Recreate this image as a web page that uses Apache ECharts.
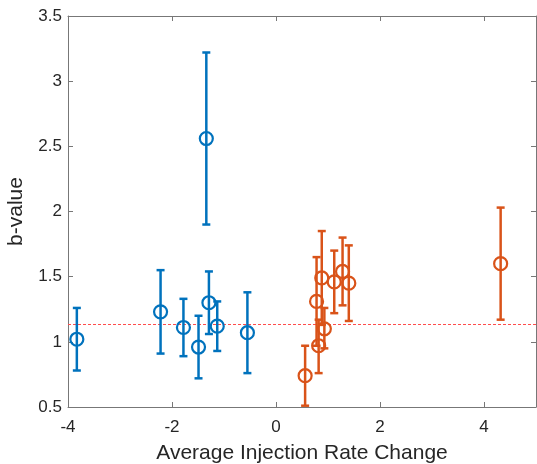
<!DOCTYPE html>
<html>
<head>
<meta charset="utf-8">
<script src="https://cdn.jsdelivr.net/npm/echarts@6/dist/echarts.min.js"></script>
<style>
html,body{margin:0;padding:0;background:#fff;}
#c{width:537px;height:464px;}
</style>
</head>
<body>
<div id="c"></div>
<script>
// Blue group (negative rate change)
var blueX    = [-3.83, -2.22, -1.78, -1.49, -1.29, -1.13, -0.55, -1.34];
var blueY    = [1.02, 1.23, 1.11, 0.96, 1.30, 1.12, 1.07, 2.56];
var blueLow  = [0.78, 0.91, 0.89, 0.72, 1.06, 0.93, 0.76, 1.90];
var blueHigh = [1.26, 1.55, 1.33, 1.20, 1.54, 1.31, 1.38, 3.22];

// Orange group (positive rate change)
var orangeX    = [0.56, 0.78, 0.82, 0.88, 0.93, 1.12, 1.28, 1.40, 4.32];
var orangeY    = [0.74, 1.31, 0.97, 1.49, 1.10, 1.46, 1.54, 1.45, 1.60];
var orangeLow  = [0.51, 0.97, 0.76, 1.13, 0.95, 1.22, 1.28, 1.16, 1.17];
var orangeHigh = [0.97, 1.65, 1.17, 1.85, 1.26, 1.70, 1.80, 1.74, 2.03];

// Reference line (horizontal, spans the x range)
var refLine = 1.14;
var refXRange = [-4, 5];

// Axis ticks
var xTicks = [-4, -2, 0, 2, 4];
var yTicks = [0.5, 1, 1.5, 2, 2.5, 3, 3.5];

var BLUE = '#0072BD', ORANGE = '#D95319', REF = '#FF4D4D';

function zip3(x, a, b) { return x.map(function (v, i) { return [v, a[i], b[i]]; }); }
function zip2(x, a) { return x.map(function (v, i) { return [v, a[i]]; }); }

function errRender(color) {
  return function (params, api) {
    var x = api.value(0);
    var p1 = api.coord([x, api.value(1)]);
    var p2 = api.coord([x, api.value(2)]);
    var w = 4;
    var st = { stroke: color, lineWidth: 2.5 };
    return {
      type: 'group',
      children: [
        { type: 'line', shape: { x1: p1[0], y1: p1[1], x2: p2[0], y2: p2[1] }, style: st },
        { type: 'line', shape: { x1: p1[0] - w, y1: p1[1], x2: p1[0] + w, y2: p1[1] }, style: st },
        { type: 'line', shape: { x1: p2[0] - w, y1: p2[1], x2: p2[0] + w, y2: p2[1] }, style: st }
      ]
    };
  };
}

function refRender(params, api) {
  var a = api.coord([api.value(0), api.value(2)]);
  var b = api.coord([api.value(1), api.value(2)]);
  var y = Math.round(a[1]) + 0.5;
  return {
    type: 'line',
    shape: { x1: Math.round(a[0]), y1: y, x2: Math.round(b[0]), y2: y },
    style: { stroke: REF, lineWidth: 1, lineDash: [3, 2] }
  };
}

var FONT = '"Liberation Sans", Arial, sans-serif';
var AX = '#777777';
var TXT = '#262626';

var chart = echarts.init(document.getElementById('c'), null, { renderer: 'canvas' });
var baseX = {
  type: 'value', min: -4, max: 5, interval: 2,
  axisLine: { show: true, onZero: false, lineStyle: { color: AX, width: 1 } },
  axisTick: { show: true, inside: true, length: 5, lineStyle: { color: AX } },
  splitLine: { show: false }
};
var baseY = {
  type: 'value', min: 0.5, max: 3.5, interval: 0.5,
  axisLine: { show: true, onZero: false, lineStyle: { color: AX, width: 1 } },
  axisTick: { show: true, inside: true, length: 5, lineStyle: { color: AX } },
  splitLine: { show: false }
};

chart.setOption({
  animation: false,
  backgroundColor: '#fff',
  grid: { left: 68, top: 16, right: 1, bottom: 57, containLabel: false, outerBoundsMode: 'none' },
  xAxis: [
    Object.assign({}, baseX, {
      position: 'bottom',
      name: 'Average Injection Rate Change',
      nameLocation: 'middle', nameGap: 36,
      nameTextStyle: { fontFamily: FONT, fontSize: 21, color: TXT },
      axisLabel: {
        fontFamily: FONT, fontSize: 17, color: TXT, margin: 12, showMaxLabel: false,
        formatter: function (v) { return xTicks.indexOf(v) >= 0 ? String(v) : ''; }
      }
    }),
    Object.assign({}, baseX, { position: 'top', axisLabel: { show: false } })
  ],
  yAxis: [
    Object.assign({}, baseY, {
      position: 'left',
      name: 'b-value',
      nameLocation: 'middle', nameGap: 41, nameMoveOverlap: false,
      nameTextStyle: { fontFamily: FONT, fontSize: 21, color: TXT },
      axisLabel: {
        fontFamily: FONT, fontSize: 17, color: TXT, margin: 6,
        formatter: function (v) { return yTicks.indexOf(v) >= 0 ? String(v) : ''; }
      }
    }),
    Object.assign({}, baseY, { position: 'right', axisLabel: { show: false } })
  ],
  series: [
    {
      type: 'custom', renderItem: refRender,
      data: [[refXRange[0], refXRange[1], refLine]], z: 1, silent: true
    },
    { type: 'custom', renderItem: errRender(BLUE), data: zip3(blueX, blueLow, blueHigh), z: 2 },
    { type: 'custom', renderItem: errRender(ORANGE), data: zip3(orangeX, orangeLow, orangeHigh), z: 2 },
    {
      type: 'scatter', data: zip2(blueX, blueY), symbol: 'circle', symbolSize: 13,
      itemStyle: { color: 'rgba(0,0,0,0)', borderColor: BLUE, borderWidth: 2.2, opacity: 1 }, z: 3
    },
    {
      type: 'scatter', data: zip2(orangeX, orangeY), symbol: 'circle', symbolSize: 13,
      itemStyle: { color: 'rgba(0,0,0,0)', borderColor: ORANGE, borderWidth: 2.2, opacity: 1 }, z: 3
    }
  ]
});
</script>
</body>
</html>
